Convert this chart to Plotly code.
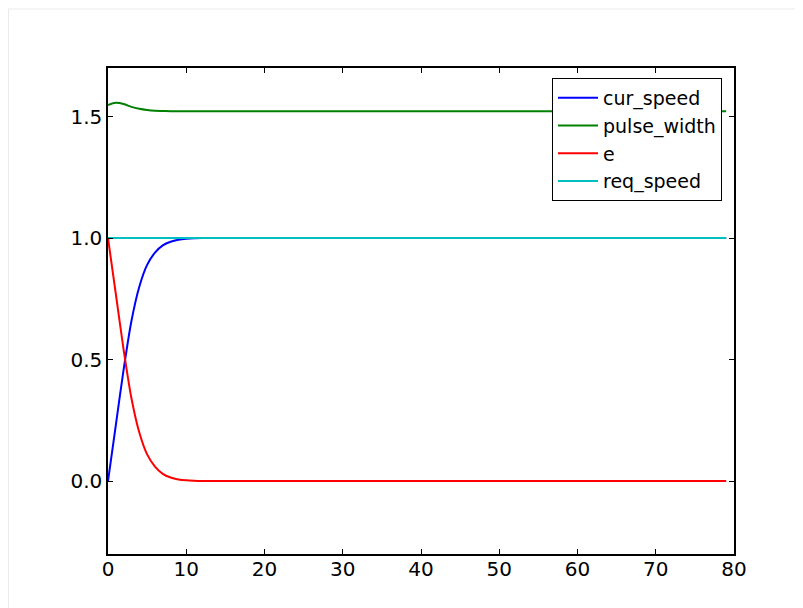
import plotly.graph_objects as go

# ---- data ----
time = [0, 1, 2, 3, 4, 5, 6, 7, 8, 9, 10, 11, 12, 79]
cur_speed = [0.0, 0.23, 0.46, 0.66, 0.80, 0.89, 0.94, 0.97, 0.985, 0.993, 0.997, 0.999, 1.0, 1.0]
pulse_width = [1.548, 1.557, 1.552, 1.540, 1.532, 1.527, 1.524, 1.523, 1.522, 1.522, 1.522, 1.522, 1.522, 1.522]
e = [1.0, 0.77, 0.54, 0.34, 0.20, 0.11, 0.06, 0.03, 0.015, 0.007, 0.003, 0.001, 0.0, 0.0]
req_speed = [1.0, 1.0, 1.0, 1.0, 1.0, 1.0, 1.0, 1.0, 1.0, 1.0, 1.0, 1.0, 1.0, 1.0]

x_ticks = [0, 10, 20, 30, 40, 50, 60, 70, 80]
y_ticks = [0.0, 0.5, 1.0, 1.5]
y_tick_labels = ["0.0", "0.5", "1.0", "1.5"]

series = [
    ("cur_speed", cur_speed, "#0000ff"),
    ("pulse_width", pulse_width, "#008000"),
    ("e", e, "#ff0000"),
    ("req_speed", req_speed, "#00bfbf"),
]

fig = go.Figure()
for name, vals, color in series:
    fig.add_trace(go.Scatter(x=time, y=vals, mode="lines", name=name,
                             line=dict(color=color, width=2, shape="spline", smoothing=0.8)))

# figure is 795x600 (page adds an 8px body margin); plot area in figure pixels
FW, FH = 795, 600
L, R, T, B = 100, 726, 60, 546
W, H = R - L, B - T


def px(xp):
    return (xp - L) / W


def py(yp):
    return (B - yp) / H


fig.update_layout(
    width=FW, height=FH,
    margin=dict(l=L, r=FW - R, t=T, b=FH - B),
    paper_bgcolor="white", plot_bgcolor="white",
    font=dict(family="DejaVu Sans", size=20, color="black"),
    showlegend=True,
    legend=dict(x=px(714), y=py(70), xanchor="right", yanchor="top",
                bgcolor="white", bordercolor="black", borderwidth=1,
                font=dict(size=19), tracegroupgap=0, itemwidth=40,
                entrywidth=140),
    shapes=[
        dict(type="line", xref="paper", yref="paper", x0=px(0), x1=px(FW),
             y0=py(1), y1=py(1), line=dict(color="#ebebeb", width=1)),
        dict(type="line", xref="paper", yref="paper", x0=px(0.5), x1=px(0.5),
             y0=py(1), y1=py(FH), line=dict(color="#ebebeb", width=1)),
    ],
)
fig.update_xaxes(range=[0, 80], tickvals=x_ticks, ticks="inside", ticklen=5,
                 tickcolor="black", showline=True, linecolor="black", linewidth=1.5,
                 mirror="ticks", showgrid=False, zeroline=False,
                 ticklabelstandoff=-4)
fig.update_yaxes(range=[-0.3, 1.7], tickvals=y_ticks, ticktext=y_tick_labels,
                 ticks="inside", ticklen=5, tickcolor="black", showline=True,
                 linecolor="black", linewidth=1.5, mirror="ticks", showgrid=False,
                 zeroline=False)

fig.write_html("out.html")
